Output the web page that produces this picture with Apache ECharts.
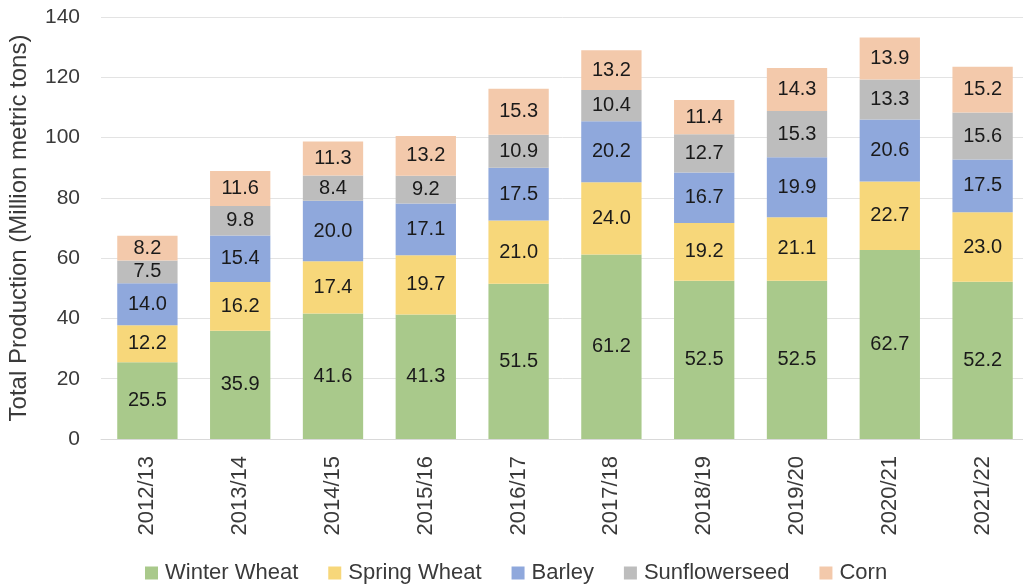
<!DOCTYPE html>
<html>
<head>
<meta charset="utf-8">
<script src="https://cdn.jsdelivr.net/npm/echarts@6/dist/echarts.min.js"></script>
<style>
  html, body { margin: 0; padding: 0; background: #fff; }
  #chart { width: 1023px; height: 584px; }
</style>
</head>
<body>
<div id="chart"></div>
<script>
const seasons = ["2012/13", "2013/14", "2014/15", "2015/16", "2016/17", "2017/18", "2018/19", "2019/20", "2020/21", "2021/22"];
const winterWheat = [25.5, 35.9, 41.6, 41.3, 51.5, 61.2, 52.5, 52.5, 62.7, 52.2];
const springWheat = [12.2, 16.2, 17.4, 19.7, 21.0, 24.0, 19.2, 21.1, 22.7, 23.0];
const barley = [14.0, 15.4, 20.0, 17.1, 17.5, 20.2, 16.7, 19.9, 20.6, 17.5];
const sunflowerseed = [7.5, 9.8, 8.4, 9.2, 10.9, 10.4, 12.7, 15.3, 13.3, 15.6];
const corn = [8.2, 11.6, 11.3, 13.2, 15.3, 13.2, 11.4, 14.3, 13.9, 15.2];

const font = "Liberation Sans";
const textColor = "#3a3a3a";

function stack(name, data, color) {
  return {
    name: name,
    type: "bar",
    stack: "total",
    data: data,
    barCategoryGap: "35%",
    itemStyle: { color: color },
    label: {
      show: true,
      position: "inside",
      color: "#1a1a1a",
      fontFamily: font,
      fontSize: 20,
      formatter: p => p.value.toFixed(1),
    },
  };
}

const chart = echarts.init(document.getElementById("chart"));
chart.setOption({
  backgroundColor: "#fff",
  animation: false,
  grid: { left: 101, width: 928, top: 17, bottom: 145, outerBoundsMode: "none", containLabel: false },
  legend: {
    top: 557,
    left: 140,
    icon: "rect",
    itemWidth: 13,
    itemHeight: 13,
    itemGap: 30,
    textStyle: { color: textColor, fontFamily: font, fontSize: 22, padding: [0, 0, 0, 2] },
  },
  xAxis: {
    type: "category",
    data: seasons,
    axisTick: { show: false },
    axisLine: { lineStyle: { color: "#d9d9d9" } },
    axisLabel: {
      rotate: 90,
      color: textColor,
      fontFamily: font,
      fontSize: 22,
      margin: 17,
    },
  },
  yAxis: {
    type: "value",
    min: 0,
    max: 140,
    interval: 20,
    name: "Total Production (Million metric tons)",
    nameLocation: "middle",
    nameGap: 70,
    nameTextStyle: { color: textColor, fontFamily: font, fontSize: 24 },
    axisLine: { show: false },
    axisTick: { show: false },
    splitLine: { lineStyle: { color: "#e3e3e3" } },
    axisLabel: { color: textColor, fontFamily: font, fontSize: 21, margin: 21 },
  },
  series: [
    stack("Winter Wheat", winterWheat, "#a9c98b"),
    stack("Spring Wheat", springWheat, "#f7d77a"),
    stack("Barley", barley, "#8fa8dc"),
    stack("Sunflowerseed", sunflowerseed, "#bdbdbd"),
    stack("Corn", corn, "#f3c9ab"),
  ],
});
</script>
</body>
</html>
